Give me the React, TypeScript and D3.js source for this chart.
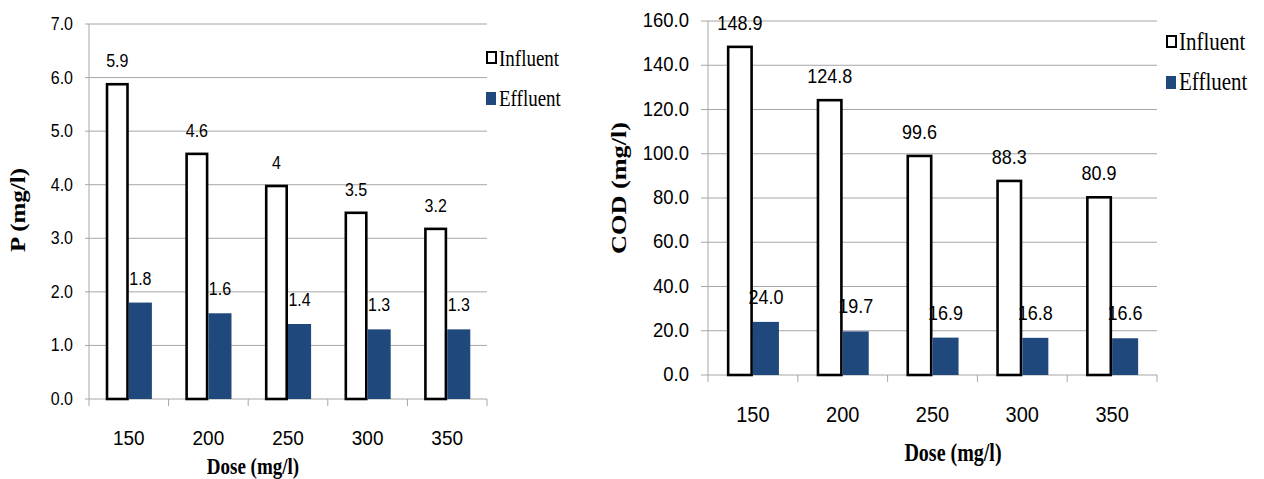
import React from "react";
import * as d3 from "d3";

const doses = ["150", "200", "250", "300", "350"];
const series = ["Influent", "Effluent"];

const pInfluent = [5.9, 4.6, 4, 3.5, 3.2];
const pEffluent = [1.8, 1.6, 1.4, 1.3, 1.3];
const pTicks = [0, 1, 2, 3, 4, 5, 6, 7];

const codInfluent = [148.9, 124.8, 99.6, 88.3, 80.9];
const codEffluent = [24.0, 19.7, 16.9, 16.8, 16.6];
const codTicks = [0, 20, 40, 60, 80, 100, 120, 140, 160];

const SERIF = "'Liberation Serif', 'Times New Roman', serif";
const SANS = "'Liberation Sans', Arial, sans-serif";
const BLUE = "#1f497d";
const GRID = "#a6a6a6";

interface PanelProps {
  influent: number[];
  effluent: number[];
  ticks: number[];
  labelFmt: (v: number) => string;
  yTitle: string;
  left: number;
  right: number;
  top: number;
  bottom: number;
  tickLen: number;
  tickFont: number;
  labelFont: number;
  catFont: number;
  catBaseline: number;
  xTitleX: number;
  xTitleY: number;
  xTitleFont: number;
  yTitleX: number;
  yTitleY: number;
  yTitleFont: number;
  legendX: number;
  legendY: number;
  legendFont: number;
}

// text is vertically stretched in the picture, so every label gets a y-scale
function Txt(props: {
  x: number;
  y: number;
  k: number;
  size: number;
  family: string;
  anchor?: string;
  bold?: boolean;
  rotate?: boolean;
  children: React.ReactNode;
}) {
  const { x, y, k, size, family, anchor, bold, rotate, children } = props;
  return (
    <text
      transform={`translate(${x},${y}) scale(1,${k})${rotate ? " rotate(-90)" : ""}`}
      fontSize={size}
      fontFamily={family}
      fontWeight={bold ? "bold" : "normal"}
      textAnchor={anchor || "start"}
      fill="#000"
    >
      {children}
    </text>
  );
}

function Panel(p: PanelProps) {
  const y = d3
    .scaleLinear()
    .domain([p.ticks[0], p.ticks[p.ticks.length - 1]])
    .range([p.bottom, p.top]);
  const x = d3.scaleBand<string>().domain(doses).range([p.left, p.right]).padding(0);
  const bw = x.bandwidth();
  const inner = d3
    .scaleBand<string>()
    .domain(series)
    .range([bw * 0.21, bw * 0.79])
    .padding(0);
  const barW = inner.bandwidth();
  const sw = 2.6;

  return (
    <g>
      {p.ticks.map((t) => (
        <g key={t}>
          <line
            x1={p.left - p.tickLen}
            x2={p.right}
            y1={y(t)}
            y2={y(t)}
            stroke={GRID}
            strokeWidth={1}
          />
          <Txt
            x={p.left - p.tickLen - 12}
            y={y(t) + 6}
            k={1.1}
            size={p.tickFont}
            family={SANS}
            anchor="end"
          >
            {d3.format(".1f")(t)}
          </Txt>
        </g>
      ))}
      <line x1={p.left} x2={p.left} y1={p.top} y2={p.bottom + 7} stroke={GRID} />
      {doses.map((d) => (
        <line
          key={"t" + d}
          x1={(x(d) as number) + bw}
          x2={(x(d) as number) + bw}
          y1={p.bottom}
          y2={p.bottom + 7}
          stroke={GRID}
        />
      ))}
      {doses.map((d, i) => {
        const x0 = x(d) as number;
        const xi = x0 + (inner("Influent") as number);
        const xe = x0 + (inner("Effluent") as number);
        const yi = y(p.influent[i]);
        const ye = y(p.effluent[i]);
        return (
          <g key={d}>
            <rect
              x={xi + sw / 2}
              y={yi + sw / 2}
              width={barW - sw}
              height={p.bottom - yi - sw / 2}
              fill="#fff"
              stroke="#000"
              strokeWidth={sw}
            />
            <rect x={xe} y={ye} width={barW} height={p.bottom - ye} fill={BLUE} />
            <Txt
              x={xi + barW / 2}
              y={yi - 16}
              k={1.1}
              size={p.labelFont}
              family={SANS}
              anchor="middle"
            >
              {p.labelFmt(p.influent[i])}
            </Txt>
            <Txt
              x={xe + barW / 2}
              y={ye - 18}
              k={1.1}
              size={p.labelFont}
              family={SANS}
              anchor="middle"
            >
              {p.labelFmt(p.effluent[i])}
            </Txt>
            <Txt
              x={x0 + bw / 2}
              y={p.catBaseline}
              k={1.1}
              size={p.catFont}
              family={SANS}
              anchor="middle"
            >
              {d}
            </Txt>
          </g>
        );
      })}
      <Txt
        x={p.xTitleX}
        y={p.xTitleY}
        k={1.25}
        size={p.xTitleFont}
        family={SERIF}
        anchor="middle"
        bold
      >
        Dose (mg/l)
      </Txt>
      <Txt
        x={p.yTitleX}
        y={p.yTitleY}
        k={1.25}
        size={p.yTitleFont}
        family={SERIF}
        anchor="middle"
        bold
        rotate
      >
        {p.yTitle}
      </Txt>
      {series.map((s, i) => {
        const by = p.legendY + i * 40;
        return (
          <g key={s}>
            {s === "Influent" ? (
              <rect
                x={p.legendX + 1}
                y={by - 14}
                width={9}
                height={11}
                fill="#fff"
                stroke="#000"
                strokeWidth={2}
              />
            ) : (
              <rect x={p.legendX} y={by - 14} width={10} height={13} fill={BLUE} />
            )}
            <Txt
              x={p.legendX + 13}
              y={by}
              k={1.2}
              size={p.legendFont}
              family={SERIF}
            >
              {s}
            </Txt>
          </g>
        );
      })}
    </g>
  );
}

export default function App() {
  return (
    <svg
      width={1264}
      height={479}
      style={{ position: "absolute", left: 0, top: 0, background: "#fff" }}
    >
      <rect width={1264} height={479} fill="#fff" />
      <Panel
        influent={pInfluent}
        effluent={pEffluent}
        ticks={pTicks}
        labelFmt={(v) => String(v)}
        yTitle="P (mg/l)"
        left={89}
        right={487}
        top={24}
        bottom={399}
        tickLen={4}
        tickFont={16}
        labelFont={16}
        catFont={19}
        catBaseline={445}
        xTitleX={253}
        xTitleY={474}
        xTitleFont={19}
        yTitleX={25}
        yTitleY={210}
        yTitleFont={20}
        legendX={486}
        legendY={66}
        legendFont={19}
      />
      <Panel
        influent={codInfluent}
        effluent={codEffluent}
        ticks={codTicks}
        labelFmt={(v) => v.toFixed(1)}
        yTitle="COD (mg/l)"
        left={708}
        right={1157}
        top={21}
        bottom={375}
        tickLen={7}
        tickFont={18.5}
        labelFont={18}
        catFont={20}
        catBaseline={422}
        xTitleX={953}
        xTitleY={461}
        xTitleFont={20}
        yTitleX={626}
        yTitleY={188}
        yTitleFont={21}
        legendX={1166}
        legendY={50}
        legendFont={21}
      />
    </svg>
  );
}
